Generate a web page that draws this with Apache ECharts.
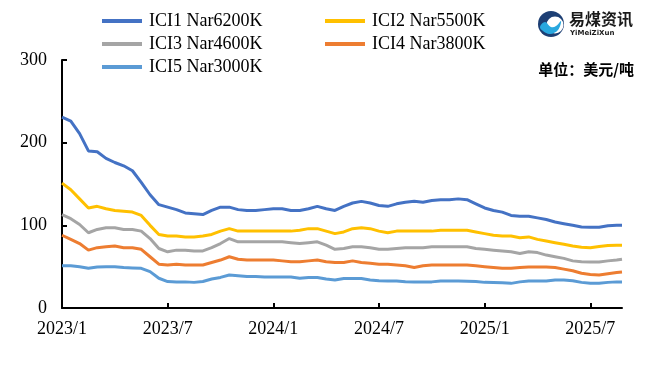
<!DOCTYPE html>
<html><head><meta charset="utf-8">
<script src="https://cdn.jsdelivr.net/npm/echarts@6/dist/echarts.min.js"></script>
<style>html,body{margin:0;padding:0;background:#fff}#c{width:650px;height:384px}</style>
</head><body><div id="c"></div>
<script>
const dates = ['2023/1/1','2023/1/16','2023/2/1','2023/2/16','2023/3/1','2023/3/16','2023/4/1','2023/4/16','2023/5/1','2023/5/16','2023/6/1','2023/6/16','2023/7/1','2023/7/16','2023/8/1','2023/8/16','2023/9/1','2023/9/16','2023/10/1','2023/10/16','2023/11/1','2023/11/16','2023/12/1','2023/12/16',
'2024/1/1','2024/1/16','2024/2/1','2024/2/16','2024/3/1','2024/3/16','2024/4/1','2024/4/16','2024/5/1','2024/5/16','2024/6/1','2024/6/16','2024/7/1','2024/7/16','2024/8/1','2024/8/16','2024/9/1','2024/9/16','2024/10/1','2024/10/16','2024/11/1','2024/11/16','2024/12/1','2024/12/16',
'2025/1/1','2025/1/16','2025/2/1','2025/2/16','2025/3/1','2025/3/16','2025/4/1','2025/4/16','2025/5/1','2025/5/16','2025/6/1','2025/6/16','2025/7/1','2025/7/16','2025/8/1','2025/8/16','2025/8/25'];
const ici1 = [231,226,211,190,189,181,176,172,166,152,137,125,122,119,115,114,113,118,122,122,119,118,118,
119,120,120,118,118,120,123,120,118,123,127,129,127,124,123,126,128,129,128,130,131,131,132,131,126,121,118,116,112,111,111,109,107,104,102,100,98,97.6,97.6,99.5,100,100];
const ici2 = [151,143,132,121,123,120,118,117,116,112,100,89,87,87,86,86,87,89,93,96,93,93,93,
93,93,93,93,94,96,96,93,90,92,96,97,96,93,91,93,93,93,93,93,94,94,94,94,92,90,88,87,87,85,86,83,81,79,77,75,73.5,73,74.5,75.5,76,76];
const ici3 = [113,108,101,91,95,97,97,95,95,93,84,72,68,70,70,69,69,73,78,84,80,80,80,
80,80,80,79,78,79,80,76,71,72,74,74,73,71,71,72,73,73,73,74,74,74,74,74,72,71,70,69,68,66,68,67,64,62,60,57,56,55.6,55.6,57,58,59];
const ici4 = [88,83,78,70,73,74,75,73,73,71,62,53,52,53,52,52,52,55,58,62,59,58,58,
58,58,57,56,56,57,58,56,55,55,57,55,54,53,53,52,51,49,51,52,52,52,52,52,51,50,49,48,48,49,49.5,49.6,49.6,49,47,45,42,40.5,40,41.5,43,43.6];
const ici5 = [51,51,50,48,49.5,50,50,49,48.5,48,44,36,32,31.6,31.6,31,32,35,37,40,39,38,38,
37.6,37.6,37.6,37.6,36,37,37,35,34,35.6,35.6,35.6,34,33,32.8,32.8,31.8,31.6,31.6,31.6,32.8,32.8,32.8,32.5,32,31,30.8,30.5,29.8,31.6,32.8,32.8,32.8,34,34,33,31,30,30,31,31.6,31.6];
const seriesNames = ['ICI1 Nar6200K','ICI2 Nar5500K','ICI3 Nar4600K','ICI4 Nar3800K','ICI5 Nar3000K'];
const seriesValues = [ici1, ici2, ici3, ici4, ici5];
const colors = ['#4472C4','#FFC000','#A5A5A5','#ED7D31','#5B9BD5'];
const xTickMonths = [0,6,12,18,24,30];
const yTicks = [0,100,200,300];
const unitText = '单位：美元/吨';

function monthIndex(s){const p=s.split('/').map(Number);return (p[0]-2023)*12+(p[1]-1)+(p[2]-1)/30;}
const xs = dates.map(monthIndex);
const serif = 'Liberation Serif, Times New Roman, serif';

const legendPos = [[102,12],[325,12],[102,35],[325,35],[102,58]];
const chart = echarts.init(document.getElementById('c'));
chart.setOption({
  animation:false,
  color: colors,
  grid:{left:62,right:28,top:60,bottom:76},
  legend: seriesNames.map((n,i)=>({
    data:[n], left:legendPos[i][0], top:legendPos[i][1], padding:0,
    icon:'rect', itemWidth:40, itemHeight:4, itemGap:0,
    textStyle:{fontFamily:serif,fontSize:18,color:'#000',padding:[0,0,0,2]}
  })),
  xAxis:{type:'value',min:0,max:xs[xs.length-1],interval:6,
    axisLine:{lineStyle:{color:'#000',width:2}},
    axisTick:{inside:true,length:5,lineStyle:{color:'#000',width:2},customValues:xTickMonths},
    axisLabel:{customValues:xTickMonths,margin:12,fontFamily:serif,fontSize:18,color:'#000',
      formatter:v=>(2023+Math.floor(v/12))+'/'+(Math.round(v)%12+1)},
    splitLine:{show:false}},
  yAxis:{type:'value',min:0,max:300,interval:100,
    axisLine:{show:true,lineStyle:{color:'#000',width:2}},
    axisTick:{show:true,inside:true,length:5,lineStyle:{color:'#000',width:2},customValues:yTicks},
    axisLabel:{margin:15,fontFamily:serif,fontSize:18,color:'#000'},
    splitLine:{show:false}},
  graphic:[
    {type:'circle',shape:{cx:551,cy:24,r:13},style:{fill:'#1d3f74'}},
    {type:'circle',shape:{cx:555,cy:25,r:8.5},style:{fill:'#fff'}},
    {type:'polygon',shape:{points:[[540,27],[545,22],[551,27],[556,26],[561,21],[558,30],[550,34],[543,31]],smooth:0.4},style:{fill:'#29a8df'}},
    {type:'text',left:569,top:11,style:{text:'易煤资讯',font:'bold 16px "Noto Sans CJK SC"',fill:'#1a1a1a'}},
    {type:'text',left:570,top:30,style:{text:'YiMeiZiXun',font:'bold 7px "DejaVu Sans"',fill:'#1a1a1a'}},
    {type:'text',right:16,top:62,style:{text:unitText,font:'bold 15px "Noto Sans CJK SC"',fill:'#000'}}
  ],
  series: seriesNames.map((n,i)=>({
    name:n,type:'line',symbol:'none',
    data: xs.map((x,j)=>[x,seriesValues[i][j]]),
    lineStyle:{width:3,color:colors[i]}, itemStyle:{color:colors[i]}
  }))
});
</script></body></html>
